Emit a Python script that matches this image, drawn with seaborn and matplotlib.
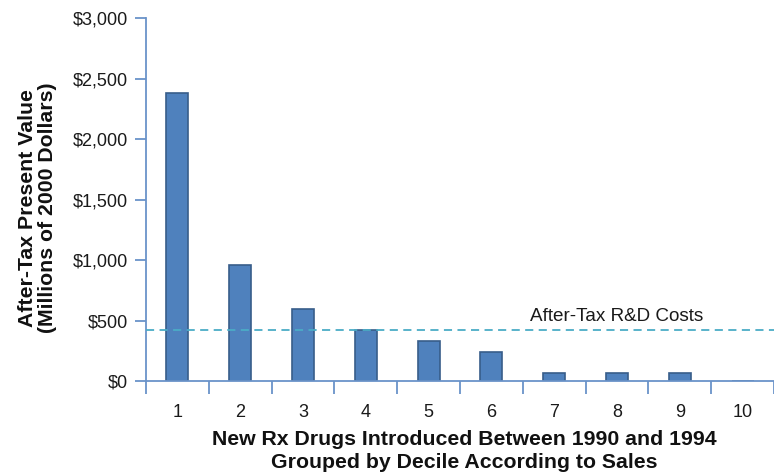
import matplotlib
matplotlib.use("Agg")
import matplotlib.pyplot as plt
from matplotlib.ticker import FixedLocator, FuncFormatter
import seaborn as sns
import pandas as pd

# After-tax present value of new drugs, by sales decile (millions of 2000 dollars)
deciles = ["1", "2", "3", "4", "5", "6", "7", "8", "9", "10"]
present_value = [2380, 960, 600, 425, 335, 245, 70, 70, 70, 0]
rd_cost = 423
y_ticks = [0, 500, 1000, 1500, 2000, 2500, 3000]

sns.set_theme(style="white")
plt.rcParams["font.family"] = ["Liberation Sans", "DejaVu Sans"]

bar_color = "#4F81BD"
bar_edge = "#385D8A"
axis_color = "#6A93C9"
ref_color = "#4BACC6"

fig = plt.figure(figsize=(7.74, 4.74), dpi=100)
ax = fig.add_axes([146 / 774, 92.7 / 474, (774 - 146) / 774, 363.3 / 474])

df = pd.DataFrame({"decile": deciles, "value": present_value})
sns.barplot(data=df, x="decile", y="value", order=deciles, color=bar_color,
            saturation=1, width=0.35, edgecolor=bar_edge, linewidth=1.2, ax=ax)

ax.axhline(rd_cost, color=ref_color, linewidth=1.3, dashes=(4.5, 3), zorder=3)
ax.annotate("After-Tax R&D Costs", xy=(5.61, rd_cost), xytext=(0, 10),
            textcoords="offset points", ha="left", va="center",
            fontsize=13.6, color="#1a1a1a")

ax.set_xlim(-0.5, -0.5 + (774 - 146) / 63.4)
ax.set_ylim(0, 3000)

for side in ["top", "right"]:
    ax.spines[side].set_visible(False)
for side in ["left", "bottom"]:
    ax.spines[side].set_color(axis_color)
    ax.spines[side].set_linewidth(1.3)

ax.yaxis.set_major_locator(FixedLocator(y_ticks))
ax.yaxis.set_major_formatter(FuncFormatter(lambda v, _: f"${v:,.0f}"))
ax.tick_params(axis="y", direction="out", length=8, width=1.3, color=axis_color,
               labelsize=13, pad=5, left=True, labelcolor="#1a1a1a")

ax.set_xticks(range(len(deciles)))
ax.set_xticklabels(deciles)
ax.set_xticks([i - 0.5 for i in range(len(deciles) + 1)], minor=True)
ax.tick_params(axis="x", which="major", length=0, labelsize=13, pad=16,
               labelcolor="#1a1a1a")
ax.tick_params(axis="x", which="minor", direction="out", length=9.5, width=1.3,
               color=axis_color, bottom=True)

ax.set_xlabel("")
ax.set_ylabel("")

fig.text(37.5 / 774, 1 - 208 / 474,
         "After-Tax Present Value\n(Millions of 2000 Dollars)",
         rotation=90, ha="center", va="center", fontsize=15.3,
         fontweight="bold", linespacing=1.1, color="#111111")
fig.text(464 / 774, 1 - 451 / 474,
         "New Rx Drugs Introduced Between 1990 and 1994\nGrouped by Decile According to Sales",
         ha="center", va="center", fontsize=15.3, fontweight="bold",
         linespacing=1.25, color="#111111")

fig.savefig("out.png", dpi=100)
